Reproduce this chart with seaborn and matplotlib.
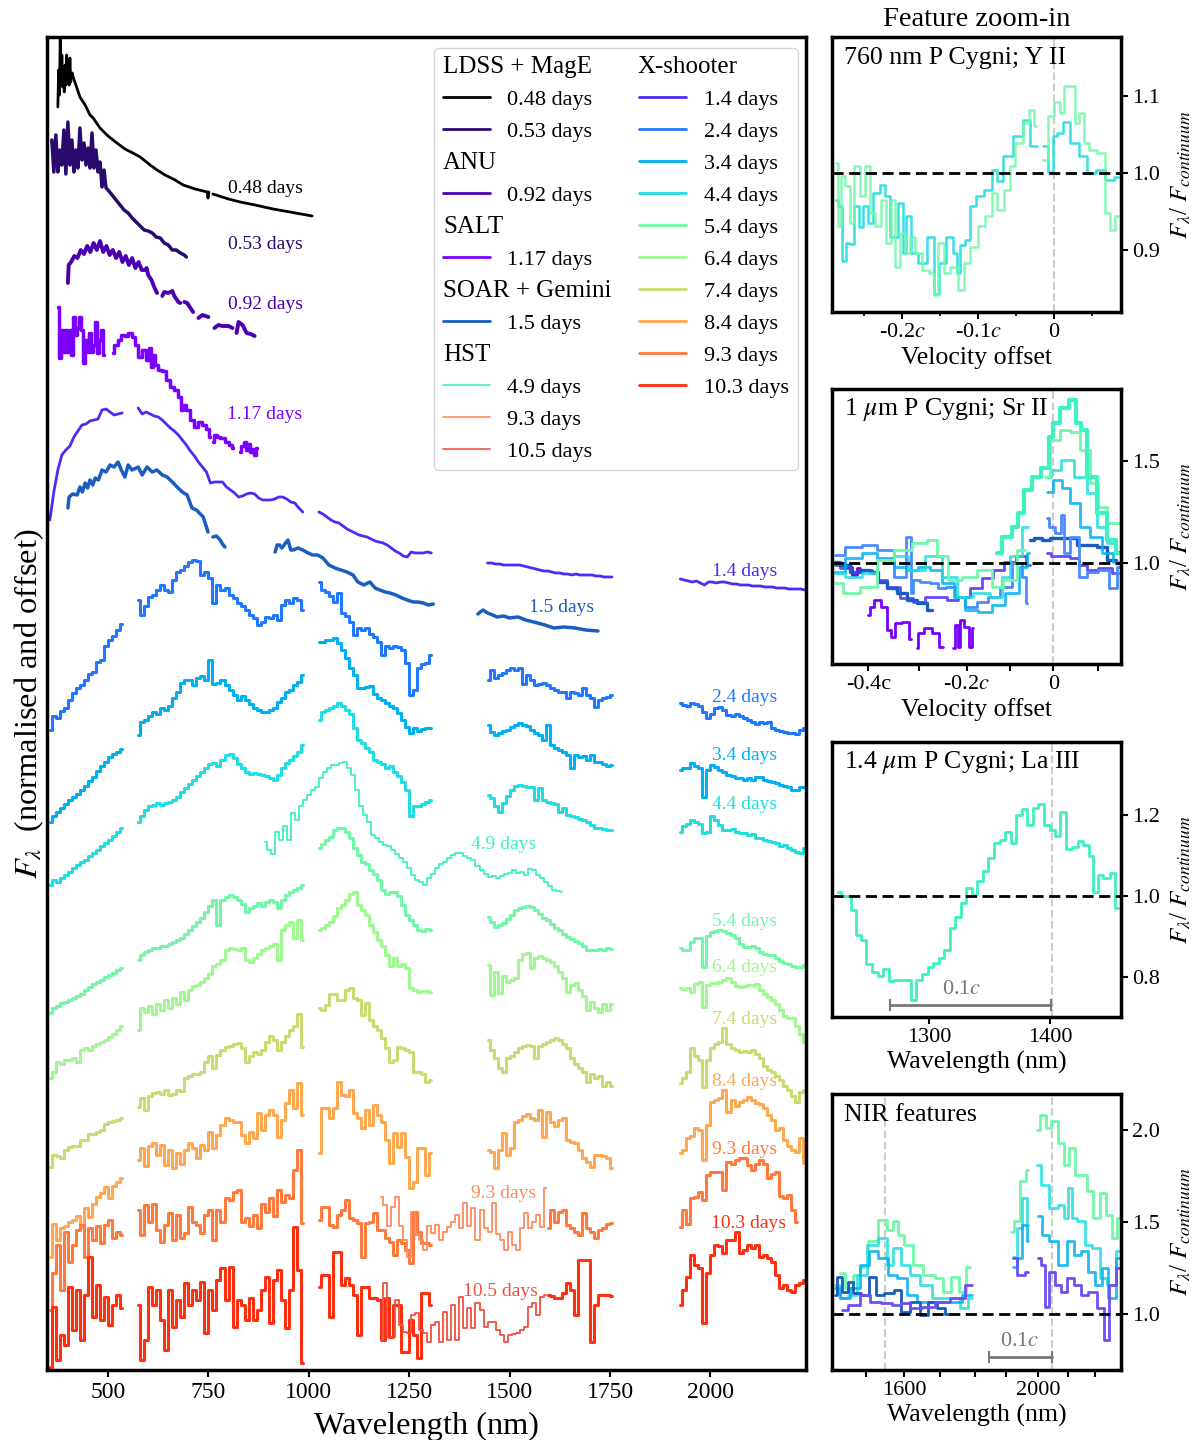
"""Kilonova spectral series with feature zoom-in panels."""
import matplotlib.pyplot as plt
import numpy as np
import pandas as pd
import seaborn as sns
from matplotlib.lines import Line2D

# X-shooter arm wavelength grids (nm)
wave_uvb = [355, 365, 375, 385, 395, 405, 415, 425, 435, 445, 455, 465, 475, 485, 495, 505, 515, 525, 535]
wave_vis = [575, 585, 595, 605, 615, 625, 635, 645, 655, 665, 675, 685, 695, 705, 715, 725, 735, 745, 755, 765, 775,
            785, 795, 805, 815, 825, 835, 845, 855, 865, 875, 885, 895, 905, 915, 925, 935, 945, 955, 965, 975, 985]
wave_nir1 = [1025, 1035, 1045, 1055, 1065, 1075, 1085, 1095, 1105, 1115, 1125, 1135, 1145, 1155, 1165, 1175, 1185,
             1195, 1205, 1215, 1225, 1235, 1245, 1255, 1265, 1275, 1285, 1295, 1305]
wave_nir2 = [1445, 1455, 1465, 1475, 1485, 1495, 1505, 1515, 1525, 1535, 1545, 1555, 1565, 1575, 1585, 1595, 1605,
             1615, 1625, 1635, 1645, 1655, 1665, 1675, 1685, 1695, 1705, 1715, 1725, 1735, 1745, 1755]
wave_nir3 = [1925, 1935, 1945, 1955, 1965, 1975, 1985, 1995, 2005, 2015, 2025, 2035, 2045, 2055, 2065, 2075, 2085,
             2095, 2105, 2115, 2125, 2135, 2145, 2155, 2165, 2175, 2185, 2195, 2205, 2215, 2225, 2235]
xs_arms = [wave_uvb, wave_vis, wave_nir1, wave_nir2, wave_nir3]

# X-shooter fluxes, normalised and offset: one list per arm
xs_14 = [
    [850, 878, 900, 915, 920, 924, 933, 939, 945, 946, 949, 950, 951, 960, 961, 958, 955, 956, 957],
    [962, 956, 958, 956, 954, 953, 950, 946, 942, 939, 935, 930, 925, 919, 914, 908, 903, 898, 887, 888, 888, 888,
     883, 880, 877, 873, 874, 876, 877, 876, 872, 870, 870, 870, 871, 873, 873, 871, 868, 867, 862, 858],
    [858, 856, 853, 850, 848, 847, 844, 841, 839, 837, 835, 834, 833, 831, 829, 828, 827, 825, 822, 819, 817, 814,
     813, 818, 817, 817, 817, 818, 817],
    [807, 807, 806, 806, 805, 805, 805, 805, 805, 804, 803, 802, 801, 800, 799, 799, 798, 797, 797, 796, 796, 795,
     796, 795, 795, 795, 795, 794, 794, 793, 793, 793],
    [791, 790, 789, 788, 789, 787, 785, 788, 788, 787, 788, 788, 787, 786, 786, 785, 785, 785, 784, 784, 784, 783,
     783, 783, 782, 782, 782, 781, 781, 781, 781, 780],
]
xs_24 = [
    [640, 654, 652, 659, 662, 670, 677, 682, 685, 690, 696, 698, 708, 710, 724, 730, 734, 740, 746],
    [770, 755, 764, 773, 775, 780, 785, 780, 778, 790, 798, 800, 804, 808, 810, 809, 795, 798, 792, 767, 785, 780,
     782, 775, 772, 767, 764, 760, 755, 752, 745, 748, 753, 752, 755, 750, 765, 770, 767, 772, 770, 760],
    [788, 780, 778, 774, 768, 777, 757, 754, 748, 735, 742, 740, 742, 736, 733, 728, 715, 724, 722, 724, 723, 720,
     707, 675, 680, 702, 706, 707, 715],
    [690, 700, 692, 695, 697, 700, 702, 700, 702, 686, 695, 690, 685, 686, 687, 685, 682, 680, 678, 678, 672, 678,
     677, 675, 682, 675, 672, 663, 670, 672, 673, 675],
    [667, 665, 664, 667, 666, 664, 658, 652, 656, 662, 663, 660, 655, 654, 656, 654, 652, 650, 648, 646, 648, 647,
     648, 642, 640, 639, 638, 637, 637, 636, 640, 642],
]
xs_34 = [
    [548, 554, 558, 562, 566, 570, 573, 576, 580, 584, 589, 593, 599, 604, 608, 613, 616, 618, 621],
    [635, 648, 650, 654, 658, 656, 662, 660, 664, 672, 678, 687, 690, 690, 685, 692, 694, 690, 710, 686, 687, 690,
     685, 680, 675, 670, 674, 670, 666, 662, 660, 658, 658, 660, 662, 668, 672, 678, 680, 685, 688, 695],
    [728, 728, 730, 730, 732, 727, 720, 712, 702, 695, 682, 682, 683, 684, 676, 672, 670, 667, 664, 662, 657, 650,
     643, 637, 642, 639, 641, 642, 642],
    [645, 638, 635, 637, 639, 640, 643, 645, 647, 645, 644, 640, 637, 635, 630, 645, 625, 622, 620, 618, 615, 602,
     615, 613, 614, 610, 615, 608, 608, 606, 604, 605],
    [600, 602, 602, 607, 604, 602, 573, 600, 605, 603, 600, 598, 595, 594, 592, 592, 590, 592, 590, 593, 593, 590,
     589, 588, 587, 585, 584, 583, 580, 580, 583, 583],
]
xs_44 = [
    [485, 490, 488, 492, 495, 498, 502, 505, 508, 510, 514, 517, 520, 524, 527, 530, 534, 538, 542],
    [548, 554, 560, 564, 565, 567, 565, 567, 568, 570, 573, 578, 582, 586, 590, 594, 598, 602, 606, 607, 604, 610,
     615, 616, 612, 606, 602, 598, 596, 597, 596, 595, 594, 592, 590, 595, 602, 607, 610, 614, 618, 625],
    [650, 658, 660, 662, 664, 667, 664, 660, 656, 642, 630, 627, 622, 618, 610, 608, 606, 602, 604, 598, 594, 588,
     580, 554, 564, 564, 566, 568, 570],
    [575, 572, 564, 558, 567, 574, 580, 584, 585, 584, 583, 583, 570, 582, 570, 568, 567, 566, 558, 562, 555, 554,
     553, 551, 550, 548, 545, 542, 542, 541, 540, 540],
    [538, 544, 546, 550, 548, 546, 537, 538, 554, 550, 545, 540, 540, 541, 538, 537, 537, 535, 536, 532, 532, 530,
     529, 528, 527, 524, 525, 522, 520, 518, 517, 522],
]
xs_54 = [
    [357, 362, 364, 367, 368, 370, 372, 374, 376, 380, 383, 386, 388, 390, 393, 395, 397, 400, 402],
    [410, 415, 418, 420, 422, 422, 424, 424, 426, 428, 430, 432, 436, 440, 444, 448, 452, 458, 464, 470, 445, 470,
     473, 475, 473, 470, 466, 458, 462, 464, 467, 464, 468, 470, 468, 462, 470, 475, 478, 480, 482, 485],
    [522, 526, 530, 533, 540, 542, 542, 538, 532, 522, 515, 508, 506, 500, 496, 490, 480, 476, 478, 478, 474, 465,
     455, 450, 445, 440, 439, 441, 440],
    [453, 448, 443, 445, 447, 451, 455, 460, 462, 463, 464, 463, 460, 456, 452, 450, 446, 442, 440, 436, 433, 431,
     429, 427, 424, 420, 420, 420, 421, 420, 422, 421],
    [422, 420, 420, 428, 432, 432, 403, 434, 438, 439, 440, 439, 437, 435, 432, 426, 423, 423, 424, 422, 418, 416,
     415, 415, 412, 409, 407, 406, 404, 403, 403, 405],
]
xs_64 = [
    [292, 298, 308, 306, 310, 310, 312, 308, 320, 322, 320, 324, 326, 328, 330, 333, 336, 340, 344],
    [340, 362, 358, 364, 356, 366, 360, 370, 362, 372, 366, 378, 370, 380, 384, 385, 388, 392, 396, 404, 406, 410,
     420, 422, 421, 420, 422, 410, 408, 412, 416, 420, 422, 424, 426, 410, 440, 445, 448, 432, 450, 430],
    [440, 442, 445, 448, 454, 462, 465, 470, 476, 478, 465, 460, 455, 445, 438, 430, 424, 415, 404, 412, 404, 406,
     402, 382, 380, 378, 379, 379, 378],
    [405, 375, 398, 377, 394, 388, 390, 392, 410, 416, 417, 402, 412, 414, 412, 410, 408, 404, 398, 392, 378, 385,
     387, 380, 374, 360, 368, 362, 358, 366, 360, 366],
    [382, 381, 382, 378, 386, 388, 363, 385, 387, 387, 388, 390, 392, 388, 384, 383, 384, 385, 385, 386, 380, 376,
     373, 370, 366, 360, 354, 352, 352, 344, 336, 328],
]
xs_74 = [
    [203, 215, 214, 212, 220, 223, 224, 224, 230, 230, 236, 236, 238, 240, 246, 248, 249, 250, 252],
    [263, 272, 260, 274, 277, 278, 276, 280, 275, 276, 280, 279, 292, 294, 296, 296, 298, 308, 314, 302, 315, 320,
     323, 324, 326, 327, 322, 308, 314, 318, 316, 320, 328, 334, 330, 320, 328, 334, 340, 344, 356, 323],
    [362, 360, 365, 376, 376, 370, 370, 380, 382, 372, 370, 355, 367, 350, 344, 340, 332, 322, 308, 310, 323, 322,
     320, 318, 298, 298, 296, 288, 290],
    [330, 320, 312, 302, 298, 312, 314, 318, 322, 324, 325, 324, 312, 324, 326, 328, 330, 332, 330, 326, 322, 312,
     306, 302, 298, 288, 296, 292, 294, 284, 288, 284],
    [287, 292, 298, 322, 314, 310, 283, 310, 322, 326, 328, 342, 326, 322, 320, 318, 319, 318, 320, 316, 312, 304,
     300, 298, 294, 290, 284, 280, 274, 268, 278, 280],
]
xs_84 = [
    [113, 146, 130, 142, 144, 148, 150, 154, 143, 162, 153, 166, 173, 177, 183, 172, 184, 188, 192],
    [210, 222, 204, 224, 227, 215, 225, 205, 220, 202, 217, 206, 220, 227, 222, 212, 225, 220, 238, 222, 235, 245,
     252, 250, 248, 248, 235, 227, 238, 232, 257, 240, 255, 260, 255, 233, 250, 267, 280, 262, 287, 255],
    [217, 262, 262, 252, 262, 288, 275, 274, 280, 257, 252, 242, 260, 245, 265, 255, 248, 230, 207, 237, 223, 237,
     213, 182, 188, 222, 222, 195, 217],
    [220, 218, 202, 220, 237, 215, 222, 248, 250, 254, 256, 252, 250, 260, 233, 258, 248, 244, 250, 252, 230, 228,
     227, 220, 212, 208, 203, 215, 215, 214, 212, 202],
    [217, 220, 232, 234, 242, 240, 210, 245, 268, 270, 272, 280, 258, 270, 264, 268, 270, 273, 270, 267, 266, 262,
     255, 250, 240, 242, 230, 224, 220, 218, 232, 207],
]
xs_93 = [
    [60, 97, 125, 80, 138, 108, 125, 140, 145, 113, 142, 130, 144, 127, 145, 150, 132, 138, 135],
    [160, 135, 165, 148, 166, 140, 128, 145, 157, 130, 155, 132, 137, 163, 148, 145, 137, 155, 160, 130, 160, 148,
     172, 170, 178, 180, 148, 152, 144, 155, 142, 166, 158, 172, 154, 180, 168, 175, 172, 200, 220, 147],
    [150, 163, 163, 145, 143, 155, 160, 170, 152, 150, 147, 113, 147, 148, 157, 140, 140, 132, 128, 115, 130, 127,
     120, 107, 158, 138, 127, 127, 125],
    [None] * 15 + [142, 160, 148, 158, 160, 145, 142, 138, 135, 157, 142, 138, 132, 140, 142, 146, 147],
    [143, 160, 146, 172, 173, 178, 170, 195, 198, 198, 198, 180, 208, 206, 210, 212, 212, 205, 200, 206, 210, 206,
     192, 196, 198, 174, 172, 175, 160, 148],
]
xs_103 = [
    [3, 63, 10, 35, 25, 83, 40, 80, 30, 75, 113, 53, 85, 50, 73, 45, 65, 75, 62],
    [65, 10, 30, 83, 65, 80, 50, 20, 80, 43, 70, 53, 87, 65, 80, 70, 88, 37, 80, 60, 90, 102, 70, 103, 43, 70, 65,
     50, 72, 50, 60, 80, 93, 47, 90, 100, 70, 42, 80, 143, 100, 7],
    [83, 95, 95, 53, 118, 118, 85, 92, 85, 75, 35, 83, 83, 72, 72, 70, 30, 72, 33, 65, 65, 18, 18, 50, 35, 12, 77,
     77, 65],
    [None] * 15 + [75, 74, 72, 72, 77, 87, 80, 55, 110, 110, 110, 28, 65, 75, 75, 75, 74],
    [65, 80, 93, 115, 105, 102, 47, 97, 115, 125, 124, 117, 130, 130, 138, 117, 120, 125, 122, 125, 113, 115, 112,
     108, 95, 82, 85, 80, 78, 85, 87, 90],
]

# LDSS + MagE, ANU, SALT, SOAR + Gemini: None marks a gap
wave_048 = [375, 377, 379, 381, 383, 385, 387, 389, 391, 393, 395, 397, 399, 401, 403, 405, 407, 409, 411, 413, 420,
            430, 443, 455, 463, 480, 500, 522, 542, 562, 580, 605, 622, 642, 667, 687, 717, 747, 749, 751, None,
            761, 800, 829, 866, 911, 953, 1008]
flux_048 = [1263, 1300, 1275, 1333, 1285, 1315, 1283, 1295, 1278, 1305, 1285, 1315, 1288, 1298, 1285, 1312, 1288, 1295,
            1297, 1293, 1285, 1273, 1265, 1255, 1252, 1242, 1234, 1227, 1221, 1217, 1213, 1205, 1200, 1195, 1190, 1185,
            1181, 1178, 1172, 1178, None, 1176, 1171, 1168, 1165, 1161, 1158, 1154]
wave_053 = [360, 365, 370, 375, 380, 385, 390, 395, 400, 405, 410, 415, 420, 425, 430, 435, 440, 445, 450, 455, 460,
            465, 470, 475, 480, 485, 490, 495, 500, 510, 520, 530, 540, 550, 560, 570, 580, 590, 600, 610, 620, 630,
            640, 650, 660, 670, 680, 690, 695]
flux_053 = [1230, 1198, 1235, 1198, 1220, 1205, 1240, 1196, 1248, 1205, 1230, 1198, 1220, 1202, 1242, 1210, 1227, 1205,
            1222, 1202, 1237, 1202, 1220, 1198, 1208, 1183, 1200, 1182, 1180, 1175, 1170, 1165, 1160, 1157, 1152, 1148,
            1144, 1140, 1139, 1137, 1133, 1132, 1127, 1125, 1120, 1120, 1117, 1115, 1113]
wave_092 = [400, 402, 408, 416, 424, 432, 440, 448, 456, 464, 472, 480, 488, 496, 504, 512, 520, 528, 536, 544, 552,
            560, 568, 576, 584, 592, 596, 600, 608, 616, 622, None, 635, 640, 650, 660, 665, 670, 675, 680, None,
            690, 697, 705, 712, None, 725, 735, 750, None, 765, 775, 785, 800, 810, None, 820, 825, 835, 845, 855, 865]
flux_092 = [1087, 1105, 1108, 1114, 1112, 1120, 1116, 1124, 1118, 1127, 1120, 1129, 1118, 1124, 1115, 1120, 1112, 1118,
            1108, 1114, 1105, 1112, 1102, 1108, 1100, 1100, 1102, 1095, 1090, 1082, 1077, None, 1074, 1078, 1077, 1079,
            1074, 1071, 1068, 1067, None, 1068, 1067, 1062, 1058, None, 1052, 1055, 1053, None, 1042, 1045, 1044, 1044,
            1042, None, 1037, 1048, 1045, 1037, 1036, 1034]
wave_117 = [375, 380, 385, 390, 395, 400, 405, 410, 415, 420, 425, 430, 435, 440, 445, 450, 455, 460, 465, 470, 475,
            480, 485, 490, None, 512, 520, 530, 537, 545, 555, 562, 570, 580, 590, 600, 605, 610, 615, 620, 630, 640,
            650, 660, 670, 680, 684, 690, 700, 710, 720, 730, 740, 747, 754, None, 761, 766, 775, 785, 795, 805, 811,
            None, 829, 835, 840, 845, 850, 855, 860, 865, 871]
flux_117 = [1063, 1012, 1040, 1018, 1040, 1018, 1040, 1015, 1053, 1035, 1042, 1053, 1040, 1007, 1030, 1018, 1037, 1018,
            1025, 1048, 1017, 1030, 1040, 1015, None, 1017, 1025, 1030, 1035, 1034, 1037, 1033, 1025, 1013, 1020, 1010,
            1022, 1003, 1015, 1005, 1000, 999, 990, 983, 980, 973, 960, 965, 960, 950, 943, 948, 945, 941, 933, None,
            928, 935, 933, 932, 928, 925, 922, None, 918, 924, 928, 920, 926, 918, 921, 915, 922]
wave_15 = [400, 403, 412, 423, 430, 436, 443, 449, 455, 462, 468, 476, 485, 495, 505, 515, 525, 533, 542, 550, 560,
           575, 585, 597, 610, 622, 635, 647, 660, 672, 685, 697, 709, 720, 737, 749, None, 761, 770, 779, 785, 791,
           None, 916, 921, 927, 933, 940, 948, 955, 961, 973, 985, 998, 1010, 1022, 1035, 1050, 1065, 1080, 1095, 1110,
           1122, 1137, 1152, 1165, 1177, 1190, 1202, 1217, 1232, 1245, 1260, 1272, 1285, 1297, 1310, None,
           1421, 1427, 1434, 1445, 1458, 1469, 1485, 1500, 1521, 1540, 1560, 1588, 1610, 1635, 1663, 1690, 1720]
flux_15 = [862, 873, 876, 875, 883, 878, 887, 882, 890, 885, 892, 890, 900, 898, 905, 903, 908, 900, 893, 905, 900,
           903, 895, 903, 898, 900, 895, 893, 888, 883, 878, 875, 862, 860, 853, 838, None, 833, 834, 830, 826, 823,
           None, 818, 825, 825, 822, 826, 830, 820, 820, 822, 820, 817, 815, 815, 812, 805, 802, 800, 798, 795,
           788, 785, 788, 782, 780, 778, 777, 775, 772, 770, 768, 768, 767, 765, 766, None,
           756, 758, 760, 757, 755, 753, 754, 752, 753, 750, 748, 745, 742, 743, 742, 740, 739]

# HST
wave_hst49 = [890, 900, 910, 920, 930, 940, 950, 960, 970, 980, 990, 1000, 1010, 1020, 1030, 1040, 1050, 1060, 1070,
              1080, 1090, 1100, 1110, 1120, 1130, 1140, 1150, 1160, 1170, 1180, 1190, 1200, 1210, 1220, 1230, 1240,
              1250, 1260, 1270, 1280, 1290, 1300, 1310, 1320, 1330, 1340, 1350, 1360, 1370, 1380, 1390, 1400, 1410,
              1420, 1430, 1440, 1450, 1460, 1470, 1480, 1490, 1500, 1510, 1520, 1530, 1540, 1550, 1560, 1570, 1580,
              1590, 1600, 1610, 1620, 1630]
flux_hst49 = [528, 520, 516, 538, 530, 544, 530, 557, 550, 564, 570, 575, 580, 583, 592, 598, 602, 605, 605, 607,
              608, 602, 595, 580, 564, 555, 548, 535, 532, 528, 525, 524, 520, 516, 512, 508, 502, 495, 490, 488,
              485, 492, 496, 502, 506, 508, 512, 515, 517, 517, 514, 512, 510, 504, 500, 496, 493, 494, 492, 494,
              496, 497, 500, 497, 498, 495, 501, 500, 495, 492, 488, 484, 480, 479, 478]
wave_hst_late = [1180, 1190, 1200, 1210, 1220, 1230, 1240, 1250, 1260, 1270, 1280, 1290, 1300, 1310, 1320, 1330, 1340,
                 1350, 1360, 1370, 1380, 1390, 1400, 1410, 1420, 1430, 1440, 1450, 1460, 1470, 1480, 1490, 1500, 1510,
                 1520, 1530, 1540, 1550, 1560, 1570, 1580, 1590]
flux_hst93 = [173, 165, 144, 163, 173, 144, 130, 113, 158, 135, 130, 120, 144, 137, 145, 130, 138, 143, 148, 155, 142,
              167, 144, 162, 130, 160, 142, 138, 167, 136, 130, 120, 138, 125, 120, 142, 157, 142, 148, 155, 143, 182]
flux_hst105 = [30, 87, 33, 33, 70, 45, 38, 37, 55, 57, 40, 37, 28, 45, 48, 28, 58, 30, 65, 30, 73, 42, 62, 42, 67, 60,
               43, 48, 48, 40, 35, 28, 35, 36, 37, 40, 43, 63, 67, 55, 73, 75]

# 760 nm panel (velocity offset, F/Fcont)
y2_v_44 = [-.287, -.281, -.276, -.272, -.266, -.259, -.255, -.248, -.241, -.235, -.224, -.220, -.211, -.2, -.198, -.191,
           -.185, -.174, -.161, -.154, -.148, -.137, -.130, -.126, -.121, -.113, -.108, -.097, -.086, -.078, -.071,
           -.062, -.047, -.034, -.028, -.023, None, -.014, -.003, 0, .007, .016, .027, .038, .049, .060, .073, .084]
y2_f_44 = [.965, .957, .886, .91, .908, .957, .93, .957, .935, .975, .985, .97, .918, .961, .896, .944, .896, .883,
           .918, .844, .883, .918, .896, .87, .907, .913, .957, .97, .978, 1.004, .99, 1.022, 1.048, 1.069, 1.035,
           1.035, None, 1.035, 1.002, 1.048, 1.052, 1.067, 1.039, 1.022, 1.0, 1.004, .991, .995]
y2_v_54 = [-.287, -.281, -.279, -.270, -.266, -.259, -.252, -.244, -.239, -.231, -.224, -.217, -.211, -.207, -.198,
           -.193, -.187, -.178, -.169, -.161, -.156, -.148, -.141, -.132, -.121, -.115, -.106, -.095, -.086, -.078,
           -.071, -.060, -.056, -.047, -.036, -.030, -.024, None, -.014, -.003, .003, .012, .014, .025, .029, .036,
           .042, .051, .062, .071, .075, .084]
y2_f_54 = [1.013, .931, .996, .983, .935, 1.009, .97, 1.009, .948, .931, .965, .909, .965, .879, .922, .896, .918, .896,
           .874, .87, .842, .909, .87, .879, .848, .883, .905, .931, .944, .974, .952, .978, 1.009, 1.039, 1.065, 1.082,
           1.061, None, 1.017, 1.074, 1.093, 1.078, 1.113, 1.113, 1.065, 1.078, 1.039, 1.03, 1.026, .948, .926, .945]

# 1 um panel
sr_v_117 = [-.49, -.47, -.458, -.447, None, -.427, -.419, -.408, -.388, -.381, -.369, -.362, -.338, -.328, None, -.315,
            -.308, -.288, -.273, -.254, None, -.231, -.223, -.217, -.212, -.2, -.19, -.185]
sr_f_117 = [1.0, .984, .943, .976, None, .748, .788, .821, .788, .674, .642, .707, .715, .629, None, .585,
            .658, .682, .658, .593, None, .585, .699, .593, .723, .691, .593, .682]
sr_v_14 = [-.504, -.481, -.45, -.427, -.412, -.396, -.373, -.335, -.312, -.281, -.258, -.235, -.204, -.181, -.15, -.127,
           -.1, -.073, -.054, None, -.015, .004, .027, .05, .069, .088, .119, .15]
sr_f_14 = [.992, .976, .959, .967, .951, .919, .886, .829, .813, .837, .837, .821, .837, .878, .927, .967,
           1.008, 1.033, .992, None, 1.052, 1.033, 1.033, 1.025, .992, .967, .975, .951]
sr_v_15 = [-.504, -.481, -.458, -.435, -.412, -.396, -.373, -.35, -.327, -.304, -.281, None,
           -.054, -.035, -.019, .004, .027, .042, .065, .088, .112, .135, .154]
sr_f_15 = [1.008, .992, .959, .967, .959, .91, .878, .853, .821, .805, .772, None,
           1.114, 1.122, 1.114, 1.122, 1.122, 1.122, 1.09, 1.09, 1.081, 1.016, 1.0]
sr_v_24 = [-.504, -.458, -.427, -.388, -.35, -.331, -.328, -.319, -.296, -.273, -.262, -.235, -.219, -.188, -.165,
           -.135, -.112, -.081, -.065, -.06, None, -.015, -.004, .012, .023, .027, .05, .069, .088, .119, .138, .154]
sr_f_24 = [1.041, 1.081, 1.09, 1.065, .935, 1.13, .853, .919, .91, .902, .878, .886, .837, .788, .813,
           .837, .886, 1.0, .935, .805, None, 1.22, 1.179, 1.147, 1.236, 1.049, 1.13, .935, .959, .967, .878, .984]
sr_v_34 = [-.504, -.458, -.427, -.388, -.35, -.327, -.296, -.273, -.242, -.219, -.188, -.158, -.127, -.096, -.065,
           -.056, None, -.015, .012, .027, .05, .073, .096, .127, .15]
sr_f_34 = [.959, 1.024, 1.049, 1.024, .984, .967, .984, .967, .902, .837, .772, .764, .796, .853, .984,
           1.049, None, 1.35, 1.407, 1.366, 1.293, 1.179, 1.13, 1.049, 1.008]
sr_v_44 = [-.504, -.458, -.427, -.388, -.35, -.319, -.273, -.242, -.204, -.165, -.127, -.112, -.088, -.058, None,
           -.015, .004, .031, .065, .088, .112, .135, .154]
sr_f_44 = [.951, .935, .951, 1.016, 1.033, .967, 1.033, .935, .837, .853, .837, .935, 1.033, 1.179, None,
           1.423, 1.456, 1.505, 1.423, 1.342, 1.179, 1.098, 1.049]
sr_v_49 = [-.131, -.108, -.085, -.077, -.058, -.042, -.015, -.004, .004, .027, .046, .058, .069, .088, .112, .135, .154]
sr_f_49 = [1.049, 1.13, 1.179, 1.244, 1.358, 1.423, 1.464, 1.619, 1.684, 1.757, 1.798, 1.684, 1.651, 1.423, 1.244,
           1.114, 1.049]
sr_v_54 = [-.504, -.465, -.427, -.388, -.35, -.304, -.281, -.258, -.227, -.196, -.158, -.127, -.104, -.065, None,
           -.019, .004, .027, .05, .073, .096, .112, .135, .154]
sr_f_54 = [.902, .853, .886, 1.016, 1.065, 1.098, 1.114, 1.033, .919, .935, .967, .886, .919, 1.065, None,
           1.423, 1.603, 1.651, 1.643, 1.554, 1.391, 1.277, 1.195, 1.195]

# 1.4 um panel
la_wave = [1224.8, 1229.5, 1233.9, 1237.2, 1241.3, 1246, 1250.4, 1255.1, 1259.8, 1264.2, 1268.9, 1273.6, 1278, 1282.6,
           1287.3, 1291.7, 1296.4, 1301.1, 1305.5, 1310.2, 1314.9, 1319.3, 1324, 1328.7, 1333.1, 1337.7, 1342.4, 1346.8,
           1351.5, 1356.2, 1360.6, 1365.3, 1370, 1374.4, 1379.1, 1383.7, 1388.2, 1392.8, 1397.5, 1401.9, 1406.6, 1410.7,
           1415.7, 1420.4, 1425.1, 1429.5, 1434.2, 1437.7, 1441.6, 1446.6, 1452.1, 1456.2]
la_flux = [1.008, .999, .999, .965, .903, .891, .832, .813, .801, .82, .789, .793, .793, .793,
           .743, .793, .807, .825, .834, .846, .866, .92, .948, .983, 1.018, 1.003, 1.036, 1.061,
           1.093, 1.129, 1.137, 1.157, 1.131, 1.198, 1.213, 1.175, 1.216, 1.225, 1.175, 1.161, 1.148, 1.207,
           1.115, 1.12, 1.134, 1.126, 1.098, 1.008, 1.051, 1.043, 1.055, .969]

# NIR panel
nir_w_54 = [1408, 1438, 1453, 1483, 1498, 1542, 1557, 1577, 1587, 1612, 1637, 1672, 1711, 1721, 1756, 1771, 1796, None,
            1920, 1935, 1955, 1970, None, 1997, 2015, 2030, 2045, 2070, 2085, 2100, 2119, 2139, 2154, 2174, 2194, 2209,
            2229, 2244]
nir_f_54 = [1.223, 1.141, 1.214, 1.259, 1.395, 1.513, 1.458, 1.504, 1.431, 1.377, 1.268, 1.214, 1.196, 1.123, 1.205,
            1.123, 1.259, None, 1.449, 1.504, 1.721, 1.784, None, 2.002, 2.083, 2.011, 2.047, 1.929, 1.812, 1.902,
            1.757, 1.757, 1.667, 1.522, 1.658, 1.54, 1.413, 1.522]
nir_w_44 = [1393, 1423, 1443, 1473, 1503, 1542, 1557, 1577, 1602, 1632, 1662, 1701, 1751, 1781, 1801, None,
            1925, 1945, 1960, 1970, None, 1997, 2020, 2045, 2070, 2085, 2095, 2105, 2129, 2149, 2174, 2194, 2219, 2244]
nir_f_44 = [1.159, 1.087, 1.105, 1.214, 1.377, 1.413, 1.268, 1.359, 1.268, 1.214, 1.159, 1.087, 1.087, 1.033, 1.087,
            None, 1.313, 1.467, 1.63, 1.486, None, 1.812, 1.703, 1.576, 1.594, 1.522, 1.685, 1.522, 1.504, 1.377, 1.359,
            1.196, 1.159, 1.341]
nir_w_34 = [1393, 1423, 1453, 1483, 1503, 1542, 1562, 1592, 1622, 1652, 1692, 1741, 1801, None,
            1925, 1945, 1960, 1970, None, 2000, 2020, 2045, 2075, 2095, 2119, 2139, 2159, 2179, 2199, 2219, 2244]
nir_f_34 = [1.141, 1.087, 1.141, 1.268, 1.341, 1.304, 1.214, 1.196, 1.105, 1.069, 1.069, 1.069, 1.105, None,
            1.259, 1.304, 1.486, 1.395, None, 1.531, 1.431, 1.395, 1.268, 1.395, 1.322, 1.341, 1.232, 1.159, 1.25,
            1.087, 1.304]
nir_w_15 = [1393, 1403, 1423, 1438, 1458, 1483, 1508, 1522, 1557, 1582, 1597, 1637, 1657, 1682, 1711, 1731]
nir_f_15 = [1.105, 1.205, 1.123, 1.178, 1.114, 1.105, 1.205, 1.105, 1.114, 1.132, 1.014, 1.069, .996, 1.069, 1.033, 1.0]
nir_w_14 = [1413, 1453, 1483, 1513, 1547, 1577, 1602, 1632, 1672, 1711, 1761, 1801, None, 1925, 1950, 1970, None,
            2000, 2015, 2025, 2040, 2060, 2075, 2095, 2119, 2139, 2159, 2189, 2206, 2219, 2244]
nir_f_14 = [1.024, 1.051, 1.105, 1.069, 1.06, 1.051, 1.06, 1.033, 1.042, 1.069, 1.087, 1.159, None, 1.304, 1.214, 1.232,
            None, 1.304, 1.268, 1.042, 1.232, 1.159, 1.123, 1.196, 1.159, 1.105, 1.123, 1.033, .861, 1.159, 1.25]

colors = {
    "0.48": "#000000", "0.53": "#2a0a6e", "0.92": "#4a00b0", "1.17": "#7a00ff", "1.4": "#4a2cf5",
    "1.5": "#1a5cbf", "2.4": "#1f78ff", "3.4": "#00b0f0", "4.4": "#20dde0", "4.9": "#3ff0c0",
    "5.4": "#70f8a8", "6.4": "#a0f890", "7.4": "#c8dc70", "8.4": "#ffa850", "9.3": "#ff7a3c",
    "10.3": "#ff3010", "hst9.3": "#ff8a5c", "hst10.5": "#f05040",
}

# legend entries: (label, colour key, linewidth); the blank rows hold the section headings
legend_rows = [
    (" ", None, 0), ("0.48 days", "0.48", 2), ("0.53 days", "0.53", 2), (" ", None, 0),
    ("0.92 days", "0.92", 2), (" ", None, 0), ("1.17 days", "1.17", 2), (" ", None, 0),
    ("1.5 days", "1.5", 2), (" ", None, 0), ("4.9 days", "4.9", 1.2), ("9.3 days", "hst9.3", 1.2),
    ("10.5 days", "hst10.5", 1.2), (" ", None, 0), ("1.4 days", "1.4", 2), ("2.4 days", "2.4", 2),
    ("3.4 days", "3.4", 2), ("4.4 days", "4.4", 2), ("5.4 days", "5.4", 2), ("6.4 days", "6.4", 2),
    ("7.4 days", "7.4", 2), ("8.4 days", "8.4", 2), ("9.3 days", "9.3", 2), ("10.3 days", "10.3", 2),
    (" ", None, 0), (" ", None, 0),
]
legend_headings = [("LDSS + MagE", 443, 67), ("ANU", 443, 163), ("SALT", 443, 227), ("SOAR + Gemini", 443, 291),
                   ("HST", 443, 355), ("X-shooter", 637, 67)]

# day labels next to the spectra: text, colour key, wavelength, height
day_labels = [
    ("0.48 days", "0.48", 891, 1181), ("0.53 days", "0.53", 891, 1125), ("0.92 days", "0.92", 891, 1065),
    ("1.17 days", "1.17", 891, 955), ("1.4 days", "1.4", 2084, 798), ("1.5 days", "1.5", 1630, 762),
    ("2.4 days", "2.4", 2084, 672), ("3.4 days", "3.4", 2084, 614), ("4.4 days", "4.4", 2084, 565),
    ("4.9 days", "4.9", 1484, 525), ("5.4 days", "5.4", 2084, 448), ("6.4 days", "6.4", 2084, 402),
    ("7.4 days", "7.4", 2084, 350), ("8.4 days", "8.4", 2084, 289), ("9.3 days", "9.3", 2084, 221),
    ("9.3 days", "hst9.3", 1484, 177), ("10.3 days", "10.3", 2096, 147), ("10.5 days", "hst10.5", 1476, 79),
]

sns.set_theme(style="white")
plt.rcParams["font.family"] = ["Liberation Serif", "DejaVu Serif"]
plt.rcParams["mathtext.fontset"] = "stix"
plt.rcParams["axes.edgecolor"] = "black"
plt.rcParams["axes.linewidth"] = 2.5
plt.rcParams["text.color"] = "black"
plt.rcParams["axes.labelcolor"] = "black"
plt.rcParams["xtick.color"] = "black"
plt.rcParams["ytick.color"] = "black"


def draw(ax, wave, flux, color, lw=2.0, steps=True, alpha=1.0):
    n = min(len(wave), len(flux))
    d = pd.DataFrame({"wave": wave[:n], "flux": flux[:n]}).apply(pd.to_numeric)
    d["seg"] = d["flux"].isna().cumsum()
    d = d.dropna()
    sns.lineplot(data=d, x="wave", y="flux", units="seg", estimator=None, sort=False, color=color, lw=lw,
                 alpha=alpha, drawstyle="steps-mid" if steps else "default", legend=False, ax=ax)


def draw_xs(ax, arms, color, lw=2.0, steps=True):
    for wave, flux in zip(xs_arms, arms):
        draw(ax, wave, flux, color, lw, steps)


def px_axes(fig, left, top, right, bottom):
    return fig.add_axes([left / 1200, (1440 - bottom) / 1440, (right - left) / 1200, (bottom - top) / 1440])


def finish_panel(ax, xlim, ylim, yticks, title, xlabel):
    ax.set_xlim(*xlim)
    ax.set_ylim(*ylim)
    ax.axhline(1.0, color="black", ls=(0, (4, 2)), lw=2, zorder=5)
    ax.yaxis.tick_right()
    ax.yaxis.set_label_position("right")
    ax.set_yticks(yticks)
    ax.set_yticklabels([f"{t:.1f}" for t in yticks])
    ax.tick_params(axis="both", which="major", direction="out", length=5, width=1.5, labelsize=16,
                   bottom=True, right=True, pad=3)
    ax.tick_params(axis="x", which="minor", direction="out", length=3, width=1.2, bottom=True)
    ax.set_xlabel(xlabel, fontsize=18.6, labelpad=3)
    ax.set_ylabel(r"$F_{\lambda}$/ $F_{continuum}$", fontsize=18, labelpad=6, rotation=90)
    ax.text(0.04, 0.925, title, transform=ax.transAxes, fontsize=18.6, va="center", ha="left")


fig = plt.figure(figsize=(12, 14.4), dpi=100)

ax = px_axes(fig, 47, 37, 806, 1370)
draw(ax, wave_048, flux_048, colors["0.48"], 2, steps=False)
draw(ax, wave_053, flux_053, colors["0.53"], 2.5, steps=False)
draw(ax, wave_092, flux_092, colors["0.92"], 2.8, steps=False)
draw(ax, wave_117, flux_117, colors["1.17"], 2.5, steps=True)
draw_xs(ax, xs_14, colors["1.4"], 2, steps=False)
draw(ax, wave_15, flux_15, colors["1.5"], 2.5, steps=False)
draw_xs(ax, xs_24, colors["2.4"], 2.2)
draw_xs(ax, xs_34, colors["3.4"], 2.2)
draw_xs(ax, xs_44, colors["4.4"], 2.2)
draw(ax, wave_hst49, flux_hst49, colors["4.9"], 1.3)
draw_xs(ax, xs_54, colors["5.4"], 2.2)
draw_xs(ax, xs_64, colors["6.4"], 2.2)
draw_xs(ax, xs_74, colors["7.4"], 2.2)
draw_xs(ax, xs_84, colors["8.4"], 2.2)
draw_xs(ax, xs_93, colors["9.3"], 2.2)
draw_xs(ax, xs_103, colors["10.3"], 2.2)
draw(ax, wave_hst_late, flux_hst93, colors["hst9.3"], 1.3)
draw(ax, wave_hst_late, flux_hst105, colors["hst10.5"], 1.3)

for text, key, x, y in day_labels:
    ax.text(x, y, text, color=colors[key], fontsize=14, ha="center", va="center")

ax.set_xlim(348, 2238)
ax.set_ylim(0, 1333)
ax.set_yticks([])
ax.set_xticks([500, 750, 1000, 1250, 1500, 1750, 2000])
ax.tick_params(axis="x", direction="out", length=5, width=1.5, labelsize=17, bottom=True, pad=4)
ax.set_xlabel("Wavelength (nm)", fontsize=23.3, labelpad=6)
ax.set_ylabel(r"$F_{\lambda}$  (normalised and offset)", fontsize=23.3, labelpad=1)

handles = []
for label, key, lw in legend_rows:
    handles.append(Line2D([], [], color=colors[key] if key else "none", lw=lw))
ax.legend(handles, [r[0] for r in legend_rows], ncol=2, loc="upper left", bbox_to_anchor=(0.51, 0.9917),
          borderaxespad=0, fontsize=16, handlelength=2.1, handletextpad=0.8, labelspacing=0.515,
          columnspacing=2.1, borderpad=0.4, frameon=True, framealpha=0.8, edgecolor="#cccccc", fancybox=True)
for text, x, y in legend_headings:
    fig.text(x / 1200, 1 - y / 1440, text, fontsize=18, ha="left", va="center")

# 760 nm P Cygni
ax1 = px_axes(fig, 832, 37, 1121, 312)
draw(ax1, y2_v_44, y2_f_44, colors["4.4"], 1.8, alpha=0.9)
draw(ax1, y2_v_54, y2_f_54, colors["5.4"], 1.8, alpha=0.85)
ax1.axvline(0, color="#cccccc", ls="--", lw=1.5, zorder=0)
finish_panel(ax1, (-0.292, 0.088), (0.82, 1.177), [0.9, 1.0, 1.1], "760 nm P Cygni; Y II", "Velocity offset")
ax1.set_xticks([-0.2, -0.1, 0], ["-0.2$c$", "-0.1$c$", "0"])
ax1.set_xticks([-0.25, -0.15, -0.05, 0.05], minor=True)
ax1.set_title("Feature zoom-in", fontsize=20.5, pad=8)

# 1 um P Cygni
ax2 = px_axes(fig, 832, 389, 1121, 664)
draw(ax2, sr_v_117, sr_f_117, colors["1.17"], 2)
draw(ax2, sr_v_14, sr_f_14, colors["1.4"], 2, alpha=0.85)
draw(ax2, sr_v_15, sr_f_15, colors["1.5"], 2.4)
draw(ax2, sr_v_24, sr_f_24, "#4a8cff", 2)
draw(ax2, sr_v_34, sr_f_34, colors["3.4"], 2, alpha=0.85)
draw(ax2, sr_v_44, sr_f_44, colors["4.4"], 2, alpha=0.85)
draw(ax2, sr_v_54, sr_f_54, colors["5.4"], 2)
draw(ax2, sr_v_49, sr_f_49, colors["4.9"], 3)
ax2.axvline(0, color="#cccccc", ls="--", lw=1.5, zorder=0)
finish_panel(ax2, (-0.511, 0.156), (0.508, 1.851), [1.0, 1.5], r"1 $\mu$m P Cygni; Sr II", "Velocity offset")
ax2.set_xticks([-0.427, -0.31, -0.2, -0.1, 0, 0.102], ["-0.4c", "", "-0.2$c$", "", "0", ""])

# 1.4 um P Cygni
ax3 = px_axes(fig, 832, 742, 1121, 1017)
draw(ax3, la_wave, la_flux, colors["4.9"], 2)
ax3.axvline(1401.5, color="#cccccc", ls="--", lw=1.5, zorder=0)
finish_panel(ax3, (1219.8, 1458.7), (0.701, 1.379), [0.8, 1.0, 1.2], r"1.4 $\mu$m P Cygni; La III", "Wavelength (nm)")
ax3.set_xticks([1300, 1400])
ax3.plot([1268, 1401], [0.731, 0.731], color="#777777", lw=2, marker="|", ms=9, mew=1.5)
ax3.text(1327, 0.768, "0.1$c$", color="#777777", fontsize=16, ha="center", va="center")

# NIR features
ax4 = px_axes(fig, 832, 1094, 1121, 1370)
draw(ax4, nir_w_54, nir_f_54, colors["5.4"], 2)
draw(ax4, nir_w_44, nir_f_44, colors["4.4"], 2, alpha=0.85)
draw(ax4, nir_w_34, nir_f_34, colors["3.4"], 2, alpha=0.85)
draw(ax4, nir_w_15, nir_f_15, colors["1.5"], 2)
draw(ax4, nir_w_14, nir_f_14, "#6a50f5", 2)
for x0 in [1542, 2042]:
    ax4.axvline(x0, color="#cccccc", ls="--", lw=1.5, zorder=0)
finish_panel(ax4, (1384, 2247), (0.698, 2.195), [1.0, 1.5, 2.0], "NIR features", "Wavelength (nm)")
ax4.set_xticks([1600, 2000])
ax4.set_xticks([1485, 1706, 1811, 1905, 2090, 2169], minor=True)
ax4.tick_params(axis="x", which="minor", length=5, width=1.5)
ax4.plot([1853, 2042], [0.77, 0.77], color="#777777", lw=2, marker="|", ms=9, mew=1.5)
ax4.text(1945, 0.85, "0.1$c$", color="#777777", fontsize=16, ha="center", va="center")

fig.savefig("out.png", dpi=100)
plt.close(fig)
